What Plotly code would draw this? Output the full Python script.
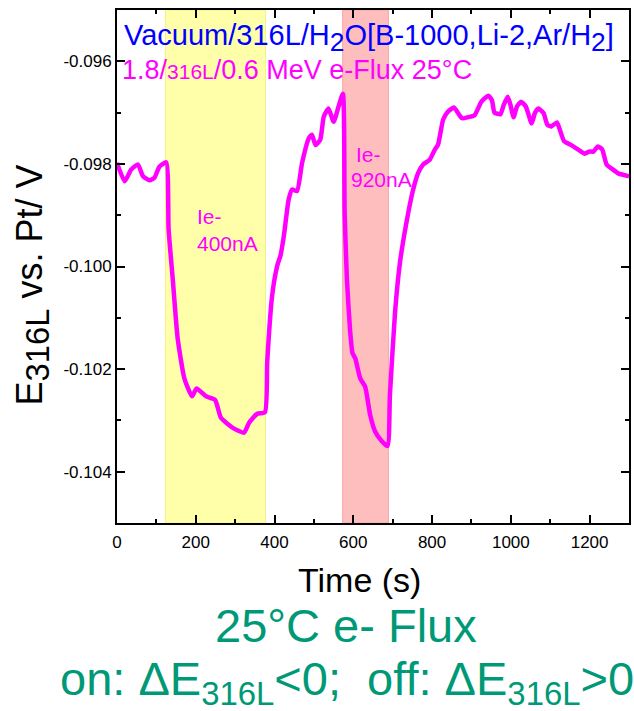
import plotly.graph_objects as go

# Potential transient of 316L under e-beam flux (time in s, potential in V vs. Pt)
time_s = [0, 19.5, 36, 53, 66, 83, 95, 108, 125, 131, 141.5, 154, 171, 190.5, 202, 226, 249,
          264, 293, 322.6, 335, 356, 375.7, 381.5, 394, 407, 415, 423.7, 436, 444.7, 457, 470,
          487, 495, 504, 516, 525, 537, 550, 562.6, 573.6, 578, 583.7, 592, 598, 605, 617.5,
          630, 642.7, 655, 672, 687, 693, 706, 718.5, 735, 752, 765, 777.4, 794, 807, 815,
          828, 840.6, 855.6, 866, 876, 891, 908, 925, 943, 952, 958.5, 973.7, 982, 992, 999,
          1007, 1015.7, 1026, 1038, 1052.8, 1061, 1069.7, 1083, 1093, 1103, 1117, 1123,
          1135.4, 1152, 1171, 1187.5, 1198.5, 1209.5, 1221, 1232, 1243, 1257.5, 1274, 1300]
e_316l = [-0.09798, -0.09834, -0.09811, -0.09801, -0.09824, -0.09832, -0.09827, -0.09805,
          -0.09797, -0.09927, -0.10024, -0.10140, -0.10218, -0.10253, -0.10238, -0.10253,
          -0.10260, -0.10295, -0.10314, -0.10324, -0.10305, -0.10287, -0.10284, -0.10185,
          -0.10056, -0.09998, -0.09979, -0.09940, -0.09869, -0.09850, -0.09853, -0.09798,
          -0.09750, -0.09743, -0.09763, -0.09753, -0.09708, -0.09692, -0.09718, -0.09688,
          -0.09663, -0.09895, -0.10024, -0.10127, -0.10169, -0.10179, -0.10218, -0.10234,
          -0.10289, -0.10321, -0.10340, -0.10350, -0.10250, -0.10089, -0.09992, -0.09914,
          -0.09850, -0.09817, -0.09801, -0.09792, -0.09772, -0.09763, -0.09714, -0.09698,
          -0.09690, -0.09701, -0.09711, -0.09709, -0.09705, -0.09679, -0.09667, -0.09676,
          -0.09700, -0.09703, -0.09685, -0.09669, -0.09685, -0.09709, -0.09688, -0.09679,
          -0.09688, -0.09721, -0.09701, -0.09692, -0.09701, -0.09724, -0.09727, -0.09719,
          -0.09730, -0.09756, -0.09763, -0.09772, -0.09780, -0.09776, -0.09776, -0.09766,
          -0.09772, -0.09801, -0.09810, -0.09819, -0.09824]

# Beam-on intervals (s)
beam_400na = [123, 377]
beam_920na = [573, 689]

x_ticks = [0, 200, 400, 600, 800, 1000, 1200]
x_tick_labels = ["0", "200", "400", "600", "800", "1000", "1200"]
y_ticks = [-0.104, -0.102, -0.100, -0.098, -0.096]
y_tick_labels = ["-0.104", "-0.102", "-0.100", "-0.098", "-0.096"]

FONT = "Arial, Liberation Sans, sans-serif"
MAGENTA = "#FF00FF"
GREEN = "#009977"

fig = go.Figure()

fig.add_trace(go.Scatter(
    x=time_s, y=e_316l, mode="lines",
    line=dict(color=MAGENTA, width=4.5, shape="spline", smoothing=0.5),
    showlegend=False, hoverinfo="skip",
))

fig.add_vrect(x0=beam_400na[0], x1=beam_400na[1], fillcolor="#FFFFAA",
              line=dict(color="#F5F08C", width=1), layer="below")
fig.add_vrect(x0=beam_920na[0], x1=beam_920na[1], fillcolor="#FFBEBE",
              line=dict(color="#F5A5A5", width=1), layer="below")

annotations = [
    dict(text="Vacuum/316L/H<sub><span style='font-size:130%'>2</span></sub>O"
              "[B-1000,Li-2,Ar/H<sub><span style='font-size:130%'>2</span></sub>]",
         xref="paper", yref="paper", x=0.492, y=0.945, xanchor="center", yanchor="middle",
         showarrow=False, font=dict(family=FONT, size=29, color="#0000FF")),
    dict(text="1.8/<span style='font-size:21px'>316L</span>/0.6 MeV e-Flux 25°C",
         xref="paper", yref="paper", x=0.006, y=0.883, xanchor="left", yanchor="middle",
         showarrow=False, font=dict(family=FONT, size=27, color=MAGENTA)),
    dict(text="Ie-", x=197, y=-0.09902, xanchor="left", yanchor="middle",
         showarrow=False, font=dict(family=FONT, size=21, color=MAGENTA)),
    dict(text="400nA", x=197, y=-0.09956, xanchor="left", yanchor="middle",
         showarrow=False, font=dict(family=FONT, size=21, color=MAGENTA)),
    dict(text="Ie-", x=603, y=-0.09782, xanchor="left", yanchor="middle",
         showarrow=False, font=dict(family=FONT, size=21, color=MAGENTA)),
    dict(text="920nA", x=588, y=-0.09831, xanchor="left", yanchor="middle",
         showarrow=False, font=dict(family=FONT, size=21, color=MAGENTA)),
    # axis titles
    dict(text="Time (s)", xref="paper", yref="paper", x=0.473, y=-0.111,
         xanchor="center", yanchor="middle", showarrow=False,
         font=dict(family=FONT, size=34, color="black")),
    dict(text="E<sub><span style='font-size:130%'>316L</span></sub> vs. Pt/ V",
         xref="paper", yref="paper", x=-0.165, y=0.464, textangle=-90,
         xanchor="center", yanchor="middle", showarrow=False,
         font=dict(family=FONT, size=36, color="black")),
    # caption
    dict(text="25°C e- Flux", xref="paper", yref="paper", x=0.448, y=-0.20,
         xanchor="center", yanchor="middle", showarrow=False,
         font=dict(family=FONT, size=47, color=GREEN)),
    dict(text="on: ΔE<sub>316L</sub><0;\u00a0\u00a0off: ΔE<sub>316L</sub>>0",
         xref="paper", yref="paper", x=0.449, y=-0.309,
         xanchor="center", yanchor="middle", showarrow=False,
         font=dict(family=FONT, size=47, color=GREEN)),
]

axis_common = dict(
    showline=True, linecolor="black", linewidth=2, mirror="ticks",
    ticks="inside", ticklen=8, tickwidth=1.5, tickcolor="black",
    showgrid=False, zeroline=False,
    tickfont=dict(family=FONT, size=17, color="black"),
)

fig.update_layout(
    width=634, height=711,
    margin=dict(l=117, r=3, t=10, b=188),
    paper_bgcolor="white", plot_bgcolor="white",
    font=dict(family=FONT),
    xaxis=dict(
        range=[0, 1300], tickvals=x_ticks, ticktext=x_tick_labels, ticklabelstandoff=3,
        minor=dict(dtick=100, ticks="inside", ticklen=4, tickwidth=1.5, tickcolor="black"),
        **axis_common,
    ),
    yaxis=dict(
        range=[-0.105, -0.095], tickvals=y_ticks, ticktext=y_tick_labels,
        minor=dict(dtick=0.001, ticks="inside", ticklen=4, tickwidth=1.5, tickcolor="black"),
        **axis_common,
    ),
    annotations=annotations,
)

fig.write_html("out.html")
